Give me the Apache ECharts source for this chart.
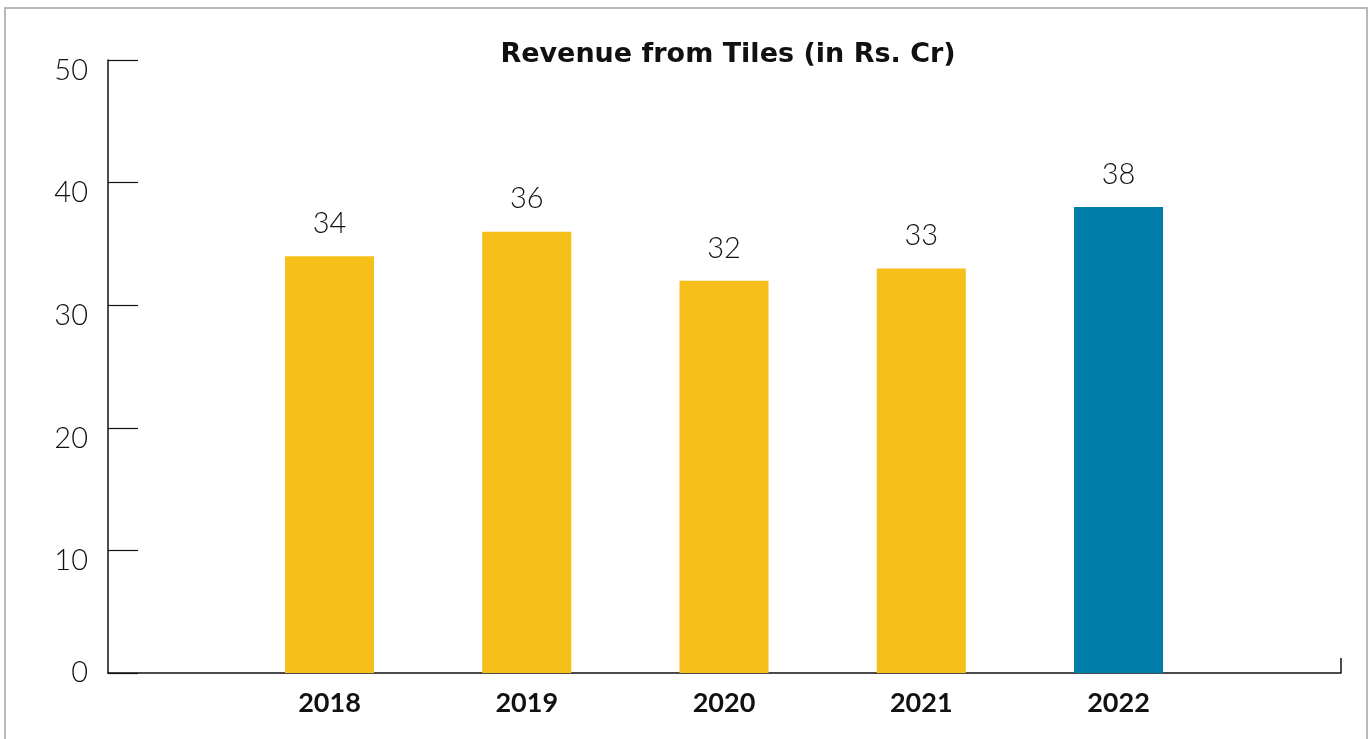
<!DOCTYPE html>
<html>
<head>
<meta charset="utf-8">
<title>Revenue from Tiles</title>
<script src="https://cdn.jsdelivr.net/npm/echarts@6/dist/echarts.min.js"></script>
<style>
  html, body { margin: 0; padding: 0; background: #ffffff; }
  #frame {
    position: absolute; left: 4px; top: 7px; width: 1360px; height: 760px;
    border-top: 2px solid #b9b9b9; border-left: 2px solid #b9b9b9; border-right: 2px solid #b9b9b9;
  }
  #chart { position: absolute; left: 0; top: 0; width: 1371px; height: 739px; }
</style>
</head>
<body>
<div id="frame"></div>
<div id="chart"></div>
<script>
// Revenue from tiles, in Rs. crore
const years = ['2018', '2019', '2020', '2021', '2022'];
const revenue = [34, 36, 32, 33, 38];
const yTicks = [0, 10, 20, 30, 40, 50];

const YELLOW = '#F6BF19';
const BLUE = '#017DAA';
const FONT = 'Lato, "Noto Sans", sans-serif';
const TITLE_FONT = '"DejaVu Sans", Lato, sans-serif';

// span of the year axis: a little over one year of padding on each side
const xMin = 2016.877;
const xMax = 2023.128;

const chart = echarts.init(document.getElementById('chart'), null, { renderer: 'canvas' });

const barData = years.map((y, i) => ({
  value: [Number(y), revenue[i]],
  itemStyle: { color: i === years.length - 1 ? BLUE : YELLOW }
}));

chart.setOption({
  animation: false,
  title: {
    text: 'Revenue from Tiles (in Rs. Cr)',
    left: 723, textAlign: 'center', top: 36,
    textStyle: { fontFamily: TITLE_FONT, fontSize: 27, fontWeight: 'bold', color: '#111' }
  },
  grid: { left: 108, right: 30, top: 60, bottom: 66, containLabel: false },
  xAxis: {
    type: 'value', min: xMin, max: xMax,
    splitLine: { show: false },
    axisLine: { show: true, lineStyle: { color: '#111', width: 1.5 } },
    axisTick: { show: true, inside: true, length: 15, customValues: [xMax], lineStyle: { color: '#111', width: 1.5 } },
    axisLabel: {
      customValues: years.map(Number),
      formatter: v => String(Math.round(v)),
      margin: 17, color: '#111', fontFamily: FONT, fontSize: 27, fontWeight: 'bold'
    }
  },
  yAxis: {
    type: 'value', min: 0, max: 50, interval: 10,
    splitLine: { show: false },
    axisLine: { show: true, lineStyle: { color: '#111', width: 1.5 } },
    axisTick: { show: true, inside: true, length: 30, lineStyle: { color: '#111', width: 1.2 } },
    axisLabel: {
      customValues: yTicks,
      margin: 20, color: '#111',
      // non-zero labels sit a little below their tick
      formatter: v => (v === 0 ? '{z|0}' : '{n|' + v + '}'),
      rich: {
        z: { fontFamily: FONT, fontSize: 29, fontWeight: 300, color: '#111' },
        n: { fontFamily: FONT, fontSize: 29, fontWeight: 300, color: '#111', padding: [21, 0, 0, 0] }
      }
    }
  },
  series: [{
    type: 'bar',
    data: barData,
    barWidth: 89,
    label: {
      show: true, position: 'top', distance: 18,
      formatter: p => String(p.value[1]),
      color: '#111', fontFamily: FONT, fontSize: 29, fontWeight: 300
    }
  }]
});
</script>
</body>
</html>
